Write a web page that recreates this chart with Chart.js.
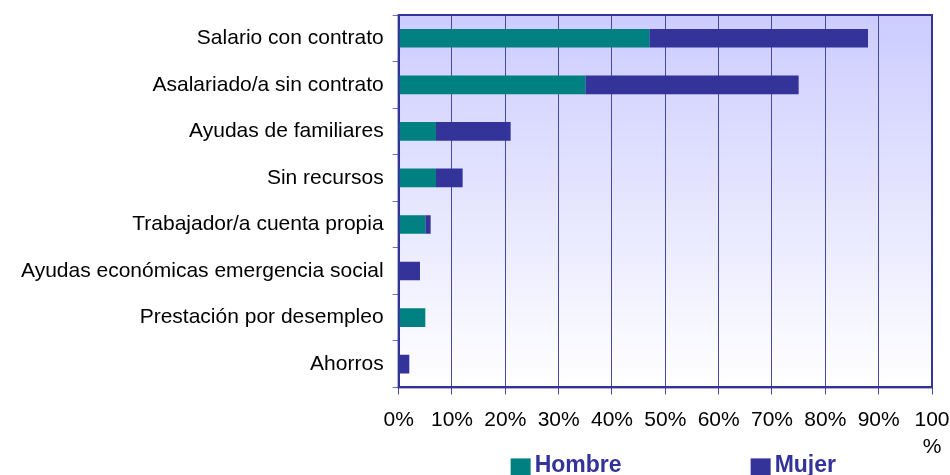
<!DOCTYPE html>
<html>
<head>
<meta charset="utf-8">
<script src="https://cdn.jsdelivr.net/npm/chart.js@4.4.1/dist/chart.umd.min.js"></script>
<style>
  html, body { margin: 0; padding: 0; background: #ffffff; overflow: hidden; }
  #wrap { width: 950px; height: 475px; position: relative; }
</style>
</head>
<body>
<div id="wrap"><canvas id="c"></canvas></div>
<script>
const categories = [
  'Salario con contrato',
  'Asalariado/a sin contrato',
  'Ayudas de familiares',
  'Sin recursos',
  'Trabajador/a cuenta propia',
  'Ayudas económicas emergencia social',
  'Prestación por desempleo',
  'Ahorros'
];
const hombre = [47, 35, 7, 7, 5, 0, 5, 0];
const mujer  = [41, 40, 14, 5, 1, 4, 0, 2];
const seriesNames = ['Hombre', 'Mujer'];
const xTickLabels = ['0%', '10%', '20%', '30%', '40%', '50%', '60%', '70%', '80%', '90%', '100%'];

const COL_H = '#008080';
const COL_M = '#333399';
const FONT = '"Liberation Sans", Arial, sans-serif';

const plotDecor = {
  id: 'plotDecor',
  beforeDraw(chart) {
    const { ctx, chartArea: a } = chart;
    const g = ctx.createLinearGradient(0, a.top, 0, a.bottom);
    g.addColorStop(0, '#ccccff');
    g.addColorStop(1, '#ffffff');
    ctx.save();
    ctx.fillStyle = g;
    ctx.fillRect(a.left, a.top, a.right - a.left, a.bottom - a.top);
    ctx.restore();
  },
  afterDraw(chart) {
    const { ctx, chartArea: a } = chart;
    ctx.save();
    ctx.strokeStyle = '#333399';
    ctx.lineWidth = 2;
    ctx.strokeRect(a.left, a.top, a.right - a.left, a.bottom - a.top);
    // legend
    const items = chart.data.datasets.map((d) => ({ text: d.label, color: d.backgroundColor }));
    const offs = [112, 352];
    ctx.font = 'bold 23px ' + FONT;
    ctx.textBaseline = 'alphabetic';
    ctx.textAlign = 'left';
    items.forEach((it, i) => {
      const x = a.left + offs[i];
      ctx.fillStyle = it.color;
      ctx.fillRect(x, a.bottom + 71, 20, 20);
      ctx.fillStyle = '#333399';
      ctx.fillText(it.text, x + 24, a.bottom + 84.5);
    });
    ctx.restore();
  }
};

function noPad(scale) {
  scale.paddingTop = 0;
  scale.paddingBottom = 0;
  scale.paddingRight = 0;
}

new Chart(document.getElementById('c'), {
  type: 'bar',
  data: {
    labels: categories,
    datasets: [
      { label: seriesNames[0], data: hombre, backgroundColor: COL_H, borderWidth: 0 },
      { label: seriesNames[1], data: mujer, backgroundColor: COL_M, borderWidth: 0 }
    ]
  },
  options: {
    indexAxis: 'y',
    responsive: true,
    maintainAspectRatio: false,
    animation: false,
    devicePixelRatio: 1,
    layout: { padding: { top: 15, right: 18, bottom: 2, left: 12 } },
    datasets: { bar: { barPercentage: 0.4, categoryPercentage: 1.0 } },
    plugins: {
      legend: { display: false },
      tooltip: { enabled: false }
    },
    scales: {
      x: {
        stacked: true,
        min: 0,
        max: 100,
        afterFit: noPad,
        ticks: {
          stepSize: 10,
          color: '#000000',
          font: { family: FONT, size: 21, lineHeight: 1.3 },
          padding: 12,
          maxRotation: 0,
          autoSkip: false,
          callback: (v, i) => {
            const l = xTickLabels[i];
            return l.length > 3 ? [l.slice(0, 3), l.slice(3)] : l;
          }
        },
        grid: { color: '#4848a8', lineWidth: 1, tickLength: 7, drawTicks: true },
        border: { color: '#333399', width: 2 }
      },
      y: {
        stacked: true,
        afterFit: noPad,
        ticks: {
          color: '#000000',
          font: { family: FONT, size: 21 },
          padding: 9,
          autoSkip: false
        },
        grid: { offset: true, drawOnChartArea: false, color: '#7070c0', tickLength: 6 },
        border: { color: '#333399', width: 2 }
      }
    }
  },
  plugins: [plotDecor]
});
</script>
</body>
</html>
